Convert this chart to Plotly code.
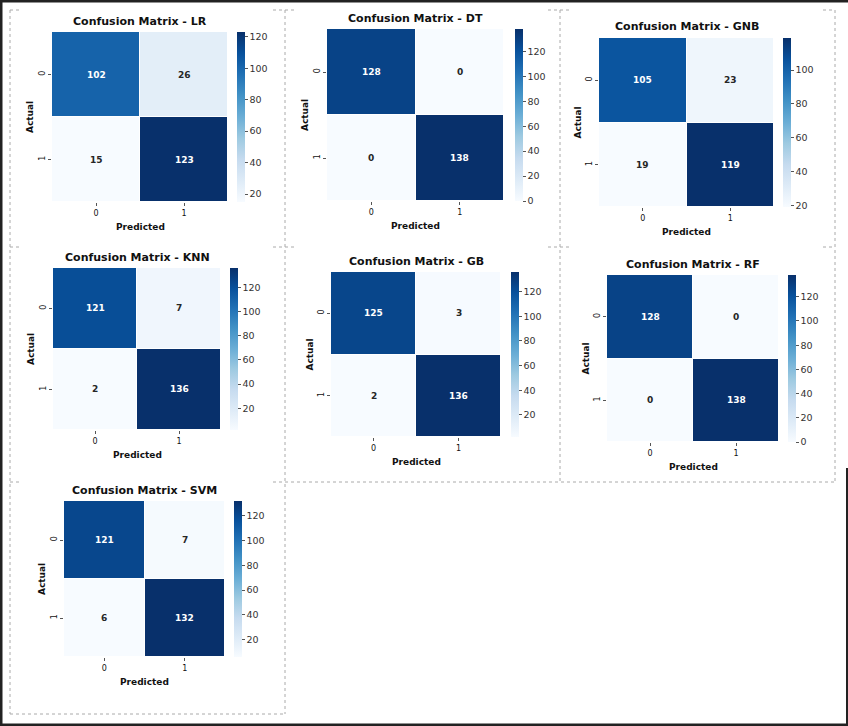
import numpy as np
import plotly.graph_objects as go

# ---------------- data ----------------
models = ["LR", "DT", "GNB", "KNN", "GB", "RF", "SVM"]
cm_LR = [[102, 26], [15, 123]]
cm_DT = [[128, 0], [0, 138]]
cm_GNB = [[105, 23], [19, 119]]
cm_KNN = [[121, 7], [2, 136]]
cm_GB = [[125, 3], [2, 136]]
cm_RF = [[128, 0], [0, 138]]
cm_SVM = [[121, 7], [6, 132]]
matrices = [cm_LR, cm_DT, cm_GNB, cm_KNN, cm_GB, cm_RF, cm_SVM]
class_labels = [0, 1]
tick_labels = ["0", "1"]

# ---------------- layout (pixels) ----------------
W, H = 848, 726
# heatmap left, top, right, bottom, colorbar left
panels = [
    (52, 32, 228, 202, 237),
    (327, 29, 504, 201, 515),
    (599, 38, 774, 207, 783),
    (53, 268, 221, 430, 230),
    (331, 272, 501, 437, 511),
    (607, 275, 779, 442, 788),
    (64, 501, 225, 657, 234),
]
CB_W = 8

blues = [
    [0.0, "#f7fbff"], [0.125, "#deebf7"], [0.25, "#c6dbef"], [0.375, "#9ecae1"],
    [0.5, "#6baed6"], [0.625, "#4292c6"], [0.75, "#2171b5"], [0.875, "#08519c"],
    [1.0, "#08306b"],
]
FONT = "DejaVu Sans"


def px(x):
    return x / W


def py(y):
    return 1 - y / H


fig = go.Figure()
annotations = []
shapes = []

for i, (name, cm) in enumerate(zip(models, matrices)):
    z = np.array(cm)
    l, t, r, b, cbl = panels[i]
    n = "" if i == 0 else str(i + 1)
    ca = "coloraxis" + n
    fig.add_trace(go.Heatmap(
        z=z, x=class_labels, y=class_labels, coloraxis=ca,
        xgap=1, ygap=1, xaxis="x" + n, yaxis="y" + n, hoverinfo="z",
    ))
    zmin, zmax = int(z.min()), int(z.max())
    fig.layout[ca] = dict(
        colorscale=blues, cmin=zmin, cmax=zmax,
        colorbar=dict(
            x=px(cbl), xanchor="left", y=py(t), yanchor="top",
            len=b - t, lenmode="pixels", thickness=CB_W, thicknessmode="pixels",
            xpad=0, ypad=0, outlinewidth=0, ticks="outside", ticklen=3,
            tickcolor="#555", tickwidth=1, tick0=0, dtick=20,
            tickfont=dict(family=FONT, size=9.5, color="#333"),
        ),
    )
    fig.layout["xaxis" + n] = dict(
        domain=[px(l), px(r)], anchor="y" + n, range=[-0.5, 1.5],
        tickvals=class_labels, ticktext=tick_labels, showgrid=False, zeroline=False,
        ticks="outside", ticklen=3, tickcolor="#555", showline=False,
        tickfont=dict(family=FONT, size=8, color="#111"), fixedrange=True,
    )
    fig.layout["yaxis" + n] = dict(
        domain=[py(b), py(t)], anchor="x" + n, range=[1.5, -0.5],
        tickvals=class_labels, ticktext=tick_labels, showgrid=False, zeroline=False,
        ticks="outside", ticklen=3, tickcolor="#555", tickangle=-90, showline=False,
        tickfont=dict(family=FONT, size=8, color="#111"), fixedrange=True,
    )
    # cell value annotations
    for ri in range(2):
        for ci in range(2):
            v = int(z[ri, ci])
            norm = (v - zmin) / (zmax - zmin) if zmax > zmin else 0
            annotations.append(dict(
                x=class_labels[ci], y=class_labels[ri], xref="x" + n, yref="y" + n,
                xanchor="center", yanchor="middle",
                text="<b>%d</b>" % v, showarrow=False,
                font=dict(family=FONT, size=9, color="#ffffff" if norm > 0.5 else "#262626"),
            ))
    cx = (l + r) / 2
    annotations.append(dict(
        x=px(cx), y=py(t - 11), xref="paper", yref="paper", showarrow=False,
        xanchor="center", yanchor="middle",
        text="<b>Confusion Matrix - %s</b>" % name,
        font=dict(family=FONT, size=11, color="#111"),
    ))
    annotations.append(dict(
        x=px(cx), y=py(b + 25), xref="paper", yref="paper", showarrow=False,
        xanchor="center", yanchor="middle",
        text="<b>Predicted</b>", font=dict(family=FONT, size=9, color="#111"),
    ))
    annotations.append(dict(
        x=px(l - 22), y=py((t + b) / 2), xref="paper", yref="paper", showarrow=False,
        xanchor="center", yanchor="middle",
        text="<b>Actual</b>", textangle=-90, font=dict(family=FONT, size=9, color="#111"),
    ))

# dashed frames
dash_line = dict(color="#aaaaaa", width=1, dash="dot")


def seg(x0, y0, x1, y1, line=dash_line):
    shapes.append(dict(type="line", xref="paper", yref="paper",
                       x0=px(x0), y0=py(y0), x1=px(x1), y1=py(y1), line=line))


seg(10, 10, 10, 714)
seg(285, 10, 285, 714)
seg(560, 10, 560, 482)
seg(835, 10, 835, 482)
seg(285, 482, 835, 482)
seg(10, 714, 285, 714)
for yy in (10, 247):
    seg(10, yy, 22, yy)
    seg(273, yy, 297, yy)
    seg(548, yy, 572, yy)
    seg(823, yy, 835, yy)
seg(10, 482, 22, 482)
seg(273, 482, 285, 482)

# outer dark frame
frame = dict(color="#222222", width=3)
seg(0, 1, 848, 1, frame)
seg(1, 0, 1, 726, frame)
seg(0, 725, 848, 725, frame)
seg(847, 468, 847, 726, dict(color="#222222", width=2))

fig.update_layout(
    width=W, height=H, margin=dict(l=0, r=0, t=0, b=0),
    paper_bgcolor="white", plot_bgcolor="white",
    annotations=annotations, shapes=shapes, showlegend=False,
    font=dict(family=FONT),
)

fig.write_html(
    "out.html",
    config={"displayModeBar": False},
    post_script="document.body.style.margin='0px';document.body.style.overflow='hidden';",
)
